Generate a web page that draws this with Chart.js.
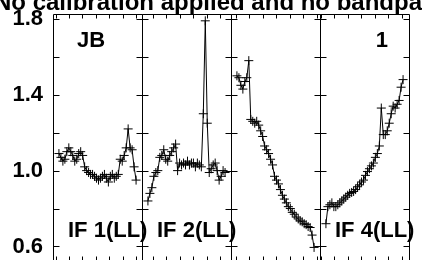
<!DOCTYPE html>
<html><head><meta charset="utf-8">
<script src="https://cdn.jsdelivr.net/npm/chart.js@4"></script>
<style>
html,body{margin:0;padding:0;overflow:hidden;background:#fff}
#wrap{position:relative;width:422px;height:266px}
</style>
</head><body>
<div id="wrap"><canvas id="c" width="422" height="266"></canvas></div>
<script>
// ---- data ----
const titleText = 'No calibration applied and no bandpass';
const sourceLabels = ['JB', '', '', '1'];
const ifLabels = ['IF 1(LL)', 'IF 2(LL)', '', 'IF 4(LL)'];
const channels = [1,2,3,4,5,6,7,8,9,10,11,12,13,14,15,16,17,18,19,20,21,22,23,24,25,26,27,28,29,30,31,32,33,34,35,36,37,38,39,40];
const if1 = [1.09,1.07,1.05,1.06,1.10,1.12,1.10,1.08,1.05,1.06,1.09,1.10,1.08,1.02,1.00,0.99,0.98,0.98,0.97,0.96,
             0.95,0.96,0.97,0.98,0.96,0.94,0.97,0.98,0.96,0.97,0.98,1.06,1.05,1.08,1.12,1.22,1.12,1.11,1.02,0.95];
const if2 = [0.84,0.88,0.91,0.97,0.99,1.00,1.07,1.08,1.11,1.06,1.05,1.08,1.10,1.12,1.14,1.00,1.04,1.03,1.04,1.03,
             1.05,1.03,1.04,1.04,1.02,1.04,1.03,1.02,1.30,1.79,1.25,0.99,1.01,1.03,1.04,1.00,0.95,0.97,1.00,0.99];
const if3 = [1.50,1.49,1.45,1.43,1.47,1.49,1.58,1.27,1.26,1.25,1.26,1.24,1.21,1.18,1.13,1.11,1.09,1.06,1.03,0.97,
             0.95,0.93,0.90,0.87,0.85,0.83,0.81,0.80,0.78,0.77,0.755,0.745,0.735,0.73,0.72,0.715,0.705,0.70,0.66,0.595];
const if4 = [0.72,0.81,0.82,0.83,0.81,0.81,0.82,0.83,0.84,0.85,0.86,0.87,0.88,0.885,0.89,0.90,0.915,0.925,0.94,0.95,
             0.975,0.995,1.01,1.025,1.04,1.07,1.09,1.13,1.33,1.19,1.19,1.21,1.25,1.30,1.34,1.33,1.35,1.37,1.44,1.48];
const yLabelTicks = [0.6, 1.0, 1.4, 1.8];
const yTickMarks = [0.6, 0.8, 1.0, 1.2, 1.4, 1.6, 1.8];
const xTicks1 = [-0.7, 6.1, 12.9, 19.7, 26.5, 33.4, 40.2];
const xTicks2 = [3.6, 10.3, 17.2, 24.0, 30.9, 37.6];
const xTicks3 = [0.5, 7.3, 14.2, 21.0, 27.8, 34.6, 41.5];
const xTicks4 = [-1.5, 5.3, 12.2, 18.9, 25.8, 32.6, 39.5];

const series = [if1, if2, if3, if4];
const xTicks = [xTicks1, xTicks2, xTicks3, xTicks4];
const xIds = ['x1', 'x2', 'x3', 'x4'];
const FONT = '"Liberation Sans", Arial, sans-serif';

const datasets = series.map((vals, k) => ({
  data: channels.map((c, i) => ({x: c, y: vals[i]})),
  xAxisID: xIds[k], yAxisID: 'y',
  borderColor: '#000', borderWidth: 1, tension: 0,
  pointStyle: 'cross', pointRadius: 4.5, pointBorderWidth: 1,
  pointBorderColor: '#000', pointBackgroundColor: '#000', fill: false
}));

const scales = {
  y: {
    min: 0.526, max: 1.826, position: 'left',
    afterFit: s => { s.width = 53; s.paddingTop = 0; s.paddingBottom = 0; },
    afterBuildTicks: s => { s.ticks = yLabelTicks.map(v => ({value: v})); },
    grid: {display: false, drawTicks: false}, border: {display: false},
    ticks: {padding: 10, color: '#000', autoSkip: false,
      font: {family: FONT, size: 22, weight: 'bold'},
      callback: v => Number(v).toFixed(1)}
  }
};
xIds.forEach(id => {
  scales[id] = {type: 'linear', position: 'bottom', stack: 'ifs', stackWeight: 1,
    min: -2, max: 43, display: false,
    afterFit: s => { s.height = 0; s.paddingLeft = 0; s.paddingRight = 0; }};
});

const framePlugin = {
  id: 'frames',
  beforeDatasetsDraw(chart) {
    const ctx = chart.ctx, ca = chart.chartArea, ys = chart.scales.y;
    ctx.save();
    ctx.strokeStyle = '#000'; ctx.lineWidth = 1;
    xIds.forEach((id, k) => {
      const xs = chart.scales[id];
      const L = Math.round(xs.left) + 0.5, R = Math.round(xs.right) + 0.5;
      const T = Math.round(ca.top) + 0.5, B = Math.round(ca.bottom) + 0.5;
      ctx.beginPath();
      ctx.rect(L, T, R - L, B - T);
      yTickMarks.forEach(v => {
        const py = Math.round(ys.getPixelForValue(v)) + 0.5;
        ctx.moveTo(L, py); ctx.lineTo(L + 6, py);
        ctx.moveTo(R, py); ctx.lineTo(R - 6, py);
      });
      xTicks[k].forEach(t => {
        const px = Math.round(xs.getPixelForValue(t)) + 0.5;
        ctx.moveTo(px, T); ctx.lineTo(px, T + 4);
        ctx.moveTo(px, B); ctx.lineTo(px, B - 5);
      });
      ctx.stroke();
    });
    ctx.restore();
  },
  afterDatasetsDraw(chart) {
    const ctx = chart.ctx, ca = chart.chartArea;
    ctx.save();
    ctx.fillStyle = '#000';
    ctx.textBaseline = 'alphabetic';
    ctx.font = 'bold 22px ' + FONT;
    xIds.forEach((id, k) => {
      const xs = chart.scales[id];
      if (sourceLabels[k]) {
        if (k === 0) { ctx.textAlign = 'left'; ctx.fillText(sourceLabels[k], xs.left + 24, ca.top + 33); }
        else { ctx.textAlign = 'right'; ctx.fillText(sourceLabels[k], xs.right - 21, ca.top + 33); }
      }
      if (ifLabels[k]) {
        ctx.textAlign = 'left';
        ctx.fillText(ifLabels[k], xs.left + 15, ca.bottom - 24);
      }
    });
    ctx.font = 'bold 24px ' + FONT;
    ctx.textAlign = 'left';
    ctx.fillText(titleText, -6, 10);
    ctx.restore();
  }
};

new Chart(document.getElementById('c'), {
  type: 'line',
  data: {datasets},
  options: {
    responsive: false, animation: false, devicePixelRatio: 1,
    layout: {padding: {top: 14, right: 13, bottom: 3, left: 0}},
    plugins: {legend: {display: false}, tooltip: {enabled: false}, title: {display: false}},
    scales
  },
  plugins: [framePlugin]
});
</script>
</body></html>
